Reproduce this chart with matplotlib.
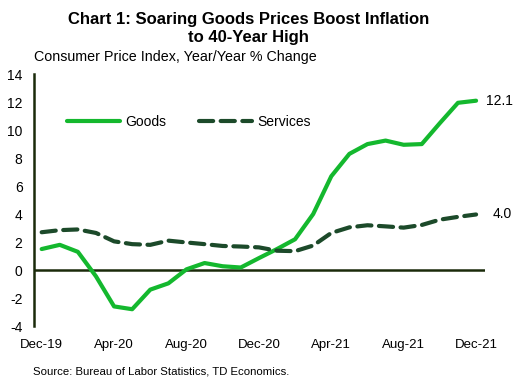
import matplotlib
matplotlib.use("Agg")
import matplotlib.pyplot as plt

plt.rcParams['font.family'] = ['Liberation Sans', 'DejaVu Sans']

months = ["Dec-19","Jan-20","Feb-20","Mar-20","Apr-20","May-20","Jun-20","Jul-20",
          "Aug-20","Sep-20","Oct-20","Nov-20","Dec-20","Jan-21","Feb-21","Mar-21",
          "Apr-21","May-21","Jun-21","Jul-21","Aug-21","Sep-21","Oct-21","Nov-21","Dec-21"]
goods = [1.5, 1.8, 1.3, -0.45, -2.6, -2.8, -1.4, -0.95, 0.05, 0.5, 0.27, 0.18,
         0.85, 1.5, 2.2, 4.0, 6.7, 8.3, 9.0, 9.25, 8.95, 9.0, 10.5, 11.95, 12.1]
services = [2.7, 2.85, 2.9, 2.65, 2.05, 1.85, 1.8, 2.1, 1.97, 1.85, 1.72, 1.68,
            1.62, 1.38, 1.35, 1.75, 2.65, 3.05, 3.2, 3.12, 3.03, 3.22, 3.6, 3.8, 3.97]
tick_labels = ["Dec-19", "Apr-20", "Aug-20", "Dec-20", "Apr-21", "Aug-21", "Dec-21"]
yticks = [-4, -2, 0, 2, 4, 6, 8, 10, 12, 14]

goods_color = "#14B82E"
serv_color = "#1C4A2A"
axis_color = "#1A2A0A"

fig = plt.figure(figsize=(5.17, 3.86), dpi=100)
ax = fig.add_axes([0.0652, 0.1554, 0.8728, 0.6526])

x = list(range(len(months)))
ax.plot(x, goods, color=goods_color, lw=3.0, solid_capstyle='round',
        solid_joinstyle='round', label="Goods", zorder=3)
ax.plot(x, services, color=serv_color, lw=3.0, dashes=(3.4, 1.8),
        dash_capstyle='round', label="Services", zorder=3)

ax.set_xlim(-0.44, 24.49)
ax.set_ylim(-4, 14)
ax.set_yticks(yticks)
ax.set_yticklabels([str(v) for v in yticks], fontsize=10)
ax.set_xticks([months.index(t) for t in tick_labels])
ax.set_xticklabels(tick_labels, fontsize=9.5)
ax.tick_params(axis='both', length=0, colors='black')
ax.tick_params(axis='x', pad=9)
ax.tick_params(axis='y', pad=8)

for s in ['top', 'right', 'bottom']:
    ax.spines[s].set_visible(False)
ax.spines['left'].set_color(axis_color)
ax.spines['left'].set_linewidth(1.8)
ax.axhline(0, color=axis_color, lw=1.8, zorder=2)

ax.text(len(months) - 1 + 0.55, goods[-1], f"{goods[-1]:.1f}", fontsize=10,
        va='center', ha='left')
ax.text(len(months) - 1 + 0.9, services[-1], f"{services[-1]:.1f}", fontsize=10,
        va='center', ha='left')

leg = ax.legend(loc='upper left', bbox_to_anchor=(0.062, 0.86), ncol=2, frameon=False,
                fontsize=10, handlelength=3.8, handletextpad=0.35, columnspacing=2.4,
                borderaxespad=0)

fig.text(0.48, 0.927, "Chart 1: Soaring Goods Prices Boost Inflation\nto 40-Year High",
         ha='center', va='center', fontsize=12, fontweight='bold', linespacing=1.25)
fig.text(0.066, 0.852, "Consumer Price Index, Year/Year % Change", fontsize=10.3,
         ha='left', va='center')
fig.text(0.064, 0.037, "Source: Bureau of Labor Statistics, TD Economics.", fontsize=8.2,
         ha='left', va='center')

fig.savefig("out.png", dpi=100)
